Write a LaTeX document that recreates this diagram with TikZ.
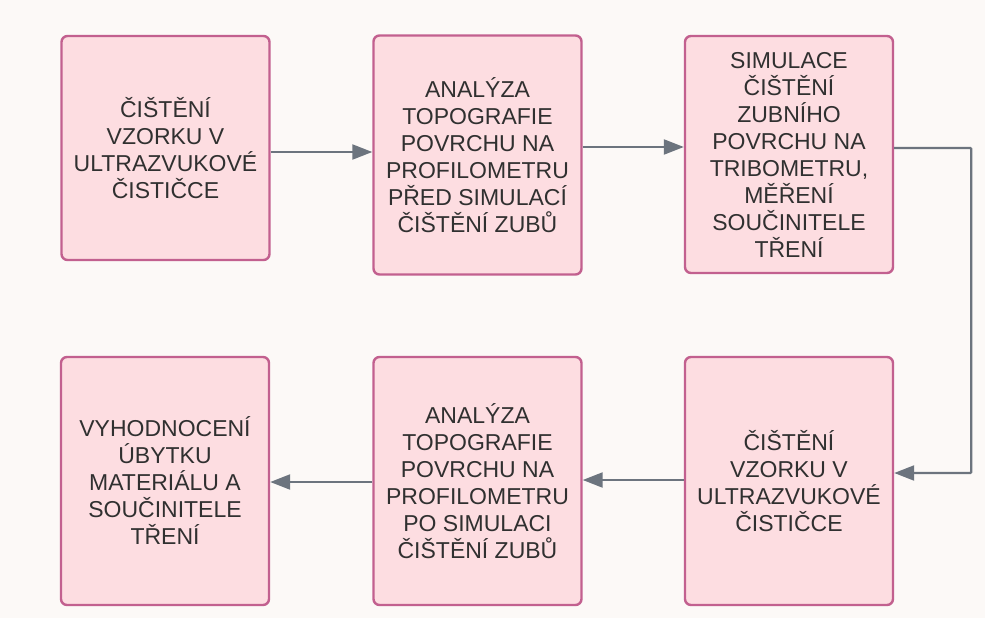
\documentclass[tikz,border=0pt]{standalone}
\usepackage{fontspec}
\setmainfont{Liberation Sans}
\usetikzlibrary{arrows.meta}

\definecolor{bgpaper}{HTML}{FCF9F7}
\definecolor{boxfill}{HTML}{FDDDE1}
\definecolor{boxline}{HTML}{C2608F}
\definecolor{flowgray}{HTML}{6C747E}
\definecolor{textgray}{HTML}{303030}

\tikzset{
  stepbox/.style={draw=boxline, line width=2.4pt, fill=boxfill, rounded corners=6pt,
    text=textgray, align=center, inner sep=2pt,
    font=\fontsize{23}{27}\selectfont, minimum width=208pt},
  flow/.style={draw=flowgray, line width=2.2pt, -{Triangle[length=20pt,width=15pt]}}
}

\begin{document}
\begin{tikzpicture}[x=1pt,y=-1pt]
				% Draw paper background
				\fill[bgpaper] (0,0) rectangle (985,618);
				\useasboundingbox (0,0) rectangle (985,618);
				
				% Upper row of steps
				\node[stepbox, minimum height=224pt] (clean1) at (165.5,148) {ČIŠTĚNÍ\\VZORKU V\\ULTRAZVUKOVÉ\\ČISTIČCE};
				\node[stepbox, minimum height=239pt] (scanpre) at (477.5,155) {ANALÝZA\\TOPOGRAFIE\\POVRCHU NA\\PROFILOMETRU\\PŘED SIMULACÍ\\ČIŠTĚNÍ ZUBŮ};
				\node[stepbox, minimum height=237pt] (tribo) at (789,154.5) {SIMULACE\\ČIŠTĚNÍ\\ZUBNÍHO\\POVRCHU NA\\TRIBOMETRU,\\MĚŘENÍ\\SOUČINITELE\\TŘENÍ};
				
				% Lower row of steps
				\node[stepbox, minimum height=248pt] (clean2) at (789,481) {ČIŠTĚNÍ\\VZORKU V\\ULTRAZVUKOVÉ\\ČISTIČCE};
				\node[stepbox, minimum height=248pt] (scanpost) at (477.5,481) {ANALÝZA\\TOPOGRAFIE\\POVRCHU NA\\PROFILOMETRU\\PO SIMULACI\\ČIŠTĚNÍ ZUBŮ};
				\node[stepbox, minimum height=248pt] (result) at (165,481) {VYHODNOCENÍ\\ÚBYTKU\\MATERIÁLU A\\SOUČINITELE\\TŘENÍ};
				
				% Connect the steps
				\draw[flow] ([yshift=-4pt]clean1.east) -- ([yshift=-4pt]clean1.east -| scanpre.west);
				\draw[flow] ([yshift=8pt]scanpre.east) -- ([yshift=8pt]scanpre.east -| tribo.west);
				\draw[flow, rounded corners=1pt] ([yshift=6.5pt]tribo.east) -- ++(77,0) |- ([yshift=8pt]clean2.east);
				\draw[flow] ([yshift=1pt]clean2.west) -- ([yshift=1pt]clean2.west -| scanpost.east);
				\draw[flow] ([yshift=-1pt]scanpost.west) -- ([yshift=-1pt]scanpost.west -| result.east);
			\end{tikzpicture}
\end{document}
